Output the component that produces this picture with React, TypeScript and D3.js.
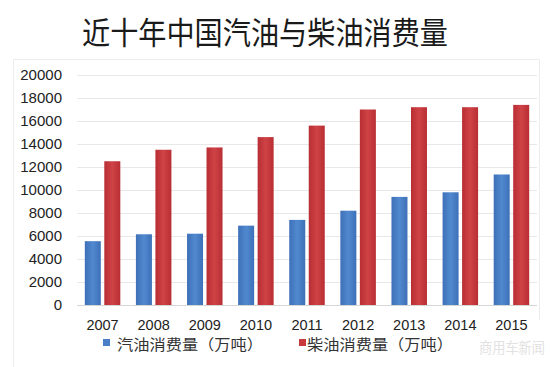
import React from "react";
import * as d3 from "d3";

const years = ["2007", "2008", "2009", "2010", "2011", "2012", "2013", "2014", "2015"];
const gasoline = [5550, 6150, 6200, 6900, 7400, 8200, 9400, 9800, 11350];
const diesel = [12500, 13500, 13700, 14600, 15600, 17000, 17200, 17200, 17400];
const yTicks = [0, 2000, 4000, 6000, 8000, 10000, 12000, 14000, 16000, 18000, 20000];
const seriesNames = ["汽油消费量（万吨）", "柴油消费量（万吨）"];
const title = "近十年中国汽油与柴油消费量";

const W = 553;
const H = 367;

export default function App() {
  const x = d3.scaleBand<string>().domain(years).range([77, 537]).paddingInner(0).paddingOuter(0);
  const y = d3.scaleLinear().domain([0, 20000]).range([305, 75]);
  const bw = x.bandwidth();
  const barW = 16;
  const gap = 3.5;
  const off = (bw - (2 * barW + gap)) / 2;
  const cjk = "'Noto Sans CJK SC', 'Noto Sans', sans-serif";
  const num = "'Liberation Sans', Arial, sans-serif";

  return (
    <div style={{ position: "fixed", left: 0, top: 0 }}>
      <svg width={W} height={H} style={{ display: "block", background: "#fff" }}>
        <defs>
          <linearGradient id="gBlue" x1="0" x2="1" y1="0" y2="0">
            <stop offset="0" stopColor="#3d70b8" />
            <stop offset="0.5" stopColor="#5189cf" />
            <stop offset="1" stopColor="#3d70b8" />
          </linearGradient>
          <linearGradient id="gRed" x1="0" x2="1" y1="0" y2="0">
            <stop offset="0" stopColor="#b82e33" />
            <stop offset="0.5" stopColor="#cf4346" />
            <stop offset="1" stopColor="#b82e33" />
          </linearGradient>
        </defs>
        <rect x={0} y={0} width={W} height={H} fill="#fff" />
        <text
          x={82}
          y={44}
          fontFamily={cjk}
          fontSize={31}
          fontWeight={400}
          fill="#1a1a1a"
          textLength={366}
          lengthAdjust="spacingAndGlyphs"
        >
          {title}
        </text>
        <path d="M13.5,367 V59.5 H539.5 V320" fill="none" stroke="#ececec" strokeWidth={1} />
        {yTicks.map((t) => (
          <g key={t}>
            <line
              x1={77}
              x2={537}
              y1={Math.round(y(t)) + 0.5}
              y2={Math.round(y(t)) + 0.5}
              stroke={t === 0 ? "#d6d6d6" : "#e8e8e8"}
              strokeWidth={1}
            />
            <text
              x={62}
              y={y(t) + 5}
              textAnchor="end"
              fontFamily={num}
              fontSize={15}
              fill="#222"
            >
              {t}
            </text>
          </g>
        ))}
        {years.map((yr, i) => {
          const x0 = (x(yr) as number) + off;
          return (
            <g key={yr}>
              <rect
                x={x0}
                y={y(gasoline[i])}
                width={barW}
                height={y(0) - y(gasoline[i])}
                fill="url(#gBlue)"
              />
              <rect
                x={x0 + barW + gap}
                y={y(diesel[i])}
                width={barW}
                height={y(0) - y(diesel[i])}
                fill="url(#gRed)"
              />
              <text
                x={(x(yr) as number) + bw / 2}
                y={330}
                textAnchor="middle"
                fontFamily={num}
                fontSize={14.5}
                fill="#222"
              >
                {yr}
              </text>
            </g>
          );
        })}
        <rect x={103} y={339} width={7} height={7} fill="#4a7ec6" />
        <text
          x={117}
          y={350}
          fontFamily={cjk}
          fontSize={15}
          fill="#333"
          textLength={146}
          lengthAdjust="spacingAndGlyphs"
        >
          {seriesNames[0]}
        </text>
        <rect x={299} y={339} width={7} height={7} fill="#c83a3c" />
        <text
          x={307}
          y={350}
          fontFamily={cjk}
          fontSize={15}
          fill="#333"
          textLength={146}
          lengthAdjust="spacingAndGlyphs"
        >
          {seriesNames[1]}
        </text>
        <text
          x={479}
          y={353}
          fontFamily={cjk}
          fontSize={15}
          fill="#e2e2e2"
          textLength={66}
          lengthAdjust="spacingAndGlyphs"
        >
          商用车新闻
        </text>
      </svg>
    </div>
  );
}
